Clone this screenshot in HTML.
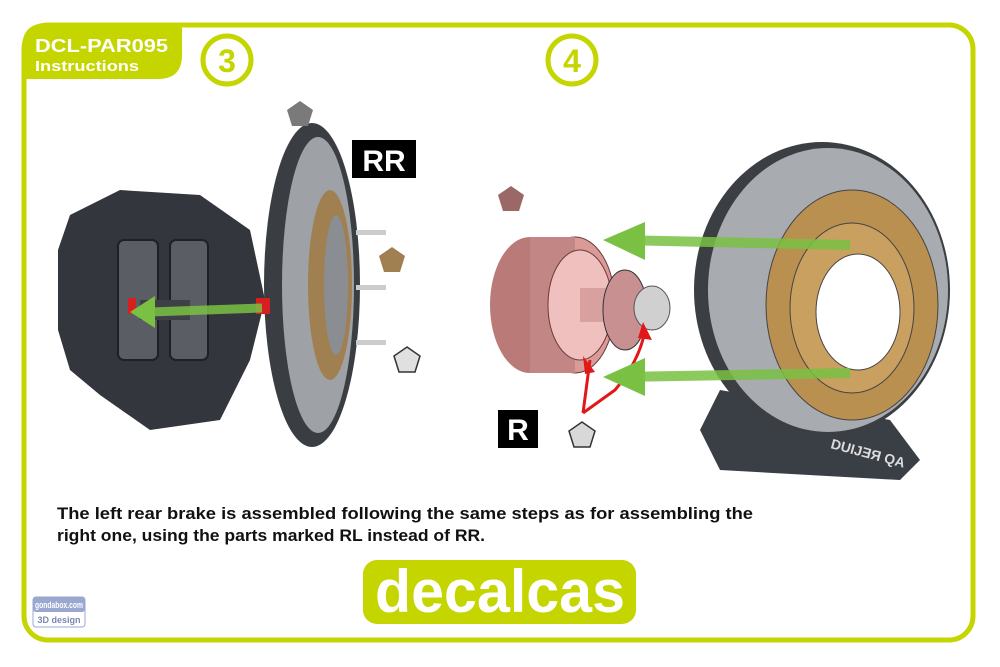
<!DOCTYPE html>
<html><head><meta charset="utf-8"><style>
html,body{margin:0;padding:0;background:#fff;width:1000px;height:667px;overflow:hidden}
svg{display:block}
</style></head><body>
<svg width="1000" height="667" viewBox="0 0 1000 667" xmlns="http://www.w3.org/2000/svg" font-family="Liberation Sans, sans-serif">
<rect x="24" y="25" width="949" height="615" rx="24" fill="#fff" stroke="#c5d500" stroke-width="5"/>
<path d="M22 48 Q22 23 47 23 L182 23 L182 55 Q182 79 158 79 L22 79 Z" fill="#c5d500"/>
<text x="35" y="52" font-size="18" font-weight="bold" fill="#fff" textLength="133" lengthAdjust="spacingAndGlyphs">DCL-PAR095</text>
<text x="35" y="71" font-size="15" font-weight="bold" fill="#fff" textLength="104" lengthAdjust="spacingAndGlyphs">Instructions</text>
<circle cx="227" cy="60" r="24" fill="none" stroke="#c5d500" stroke-width="5"/>
<text x="227" y="72" font-size="32" font-weight="bold" fill="#c5d500" text-anchor="middle">3</text>
<circle cx="572" cy="60" r="24" fill="none" stroke="#c5d500" stroke-width="5"/>
<text x="572" y="72" font-size="32" font-weight="bold" fill="#c5d500" text-anchor="middle">4</text>

<!-- left caliper -->
<path d="M70 215 L120 190 L200 195 L250 230 L265 300 L250 360 L220 420 L150 430 L100 395 L70 370 L58 330 L58 250 Z" fill="#33373d"/>
<rect x="118" y="240" width="40" height="120" rx="6" fill="#5a5e64" stroke="#1d2024" stroke-width="2"/>
<rect x="170" y="240" width="38" height="120" rx="6" fill="#5a5e64" stroke="#1d2024" stroke-width="2"/>
<rect x="140" y="300" width="50" height="20" fill="#3d4147"/>
<rect x="128" y="298" width="8" height="16" fill="#d62020"/>
<!-- left disc -->
<ellipse cx="312" cy="285" rx="48" ry="162" fill="#3a3d42"/>
<ellipse cx="318" cy="285" rx="36" ry="148" fill="#9ea1a6"/>
<ellipse cx="330" cy="285" rx="22" ry="95" fill="#a08050"/>
<ellipse cx="336" cy="285" rx="12" ry="70" fill="#8a8d92"/>
<rect x="356" y="230" width="30" height="5" fill="#ccc"/><rect x="356" y="285" width="30" height="5" fill="#ccc"/><rect x="356" y="340" width="30" height="5" fill="#ccc"/>
<rect x="256" y="298" width="14" height="16" fill="#d62020"/>
<path d="M262 308 L150 312" stroke="#7ac143" stroke-width="9" opacity="0.85"/>
<path d="M130 312 L155 296 L155 328 Z" fill="#7ac143"/>
<rect x="352" y="140" width="64" height="38" fill="#000"/>
<text x="384" y="171" font-size="30" font-weight="bold" fill="#fff" text-anchor="middle">RR</text>
<polygon points="300,101 313,110 308,126 292,126 287,110" fill="#7a7a7a"/>
<polygon points="392,247 405,256 400,272 384,272 379,256" fill="#a08050"/>
<polygon points="407,347 420,356 415,372 399,372 394,356" fill="#e0e0e0" stroke="#333" stroke-width="1.5"/>

<!-- hub -->
<polygon points="511,186 524,195 519,211 503,211 498,195" fill="#9a6866"/>
<ellipse cx="530" cy="305" rx="40" ry="68" fill="#b97a78"/>
<ellipse cx="575" cy="305" rx="40" ry="68" fill="#d99a98" stroke="#6a3a3a"/>
<rect x="530" y="237" width="45" height="136" fill="#c28684"/>
<ellipse cx="580" cy="305" rx="32" ry="55" fill="#f0c0be" stroke="#6a3a3a"/>
<rect x="580" y="288" width="40" height="34" fill="#d8a09e"/>
<ellipse cx="625" cy="310" rx="22" ry="40" fill="#c89090" stroke="#333"/>
<ellipse cx="652" cy="308" rx="18" ry="22" fill="#d0d0d0" stroke="#555"/>
<rect x="498" y="410" width="40" height="38" fill="#000"/>
<text x="518" y="440" font-size="30" font-weight="bold" fill="#fff" text-anchor="middle">R</text>
<polygon points="582,422 595,431 590,447 574,447 569,431" fill="#d8d8d8" stroke="#333" stroke-width="1.5"/>
<path d="M583 413 L590 360 M583 413 L615 390 Q640 360 645 330" stroke="#e01818" stroke-width="3" fill="none"/>
<path d="M583 356 L595 372 L585 374 Z M643 322 L652 340 L638 338 Z" fill="#e01818"/>

<!-- right disc -->
<path d="M720 390 L700 430 L720 470 L900 480 L920 460 L890 420 Z" fill="#3a3e45"/>
<text x="830" y="448" font-size="14" font-weight="bold" fill="#ddd" transform="rotate(15 830 448)">DUIJƎЯ QA</text>
<ellipse cx="822" cy="290" rx="128" ry="148" fill="#3b3e43"/>
<ellipse cx="828" cy="290" rx="120" ry="142" fill="#a8abaf"/>
<ellipse cx="852" cy="305" rx="86" ry="115" fill="#b99050" stroke="#444"/>
<ellipse cx="852" cy="308" rx="62" ry="85" fill="#c9a060" stroke="#444"/>
<ellipse cx="858" cy="312" rx="42" ry="58" fill="#fff" stroke="#444"/>
<path d="M850 245 L620 240" stroke="#7ac143" stroke-width="10" opacity="0.85"/>
<path d="M603 240 L645 222 L645 260 Z" fill="#7ac143"/>
<path d="M850 373 L620 377" stroke="#7ac143" stroke-width="10" opacity="0.85"/>
<path d="M603 377 L645 358 L645 396 Z" fill="#7ac143"/>

<text x="57" y="519" font-size="17" font-weight="bold" fill="#111" textLength="696" lengthAdjust="spacingAndGlyphs">The left rear brake is assembled following the same steps as for assembling the</text>
<text x="57" y="541" font-size="17" font-weight="bold" fill="#111" textLength="428" lengthAdjust="spacingAndGlyphs">right one, using the parts marked RL instead of RR.</text>

<rect x="363" y="560" width="273" height="64" rx="14" fill="#c5d500"/>
<text x="500" y="612" font-size="60" font-weight="bold" fill="#fff" text-anchor="middle" textLength="250" lengthAdjust="spacingAndGlyphs">decalcas</text>
<rect x="33" y="597" width="52" height="30" rx="3" fill="#fff" stroke="#9aa8d0"/>
<rect x="33" y="597" width="52" height="15" rx="3" fill="#9aa8d0"/>
<text x="59" y="608" font-size="9" font-weight="bold" fill="#fff" text-anchor="middle" textLength="48" lengthAdjust="spacingAndGlyphs">gondabox.com</text>
<text x="59" y="623" font-size="9" font-weight="bold" fill="#7a88b0" text-anchor="middle">3D design</text>
</svg>
</body></html>
